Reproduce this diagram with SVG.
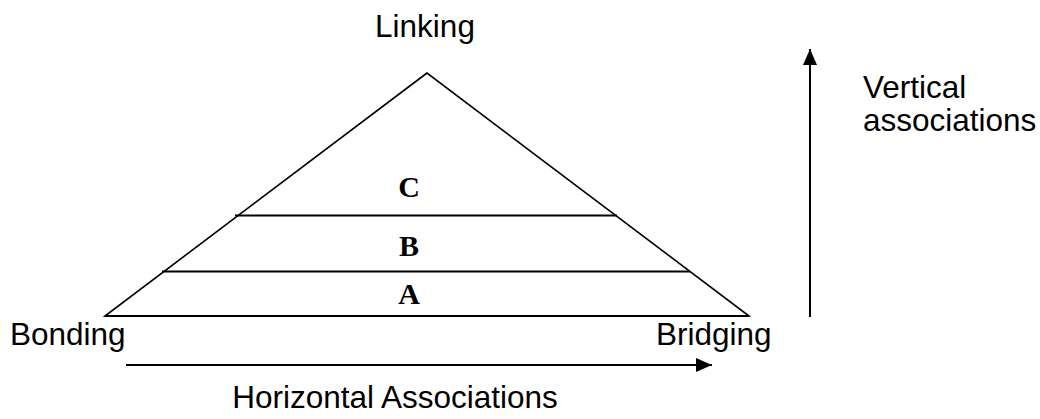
<svg xmlns="http://www.w3.org/2000/svg" width="1040" height="419" viewBox="0 0 1040 419">
  <style>
    .label { font-family: "Liberation Sans", Arial, sans-serif; font-size: 31.5px; fill: #000; }
    .tier { font-family: "Liberation Serif", "Times New Roman", serif; font-size: 30px; font-weight: bold; fill: #000; text-anchor: middle; }
    .edge { stroke: #000; stroke-width: 1.6; fill: none; }
    .band { stroke: #000; stroke-width: 2; fill: none; }
    .axis { stroke: #000; stroke-width: 2; fill: none; }
  </style>
  <defs>
    <marker id="head" viewBox="0 0 16 14" refX="16" refY="7" markerWidth="16" markerHeight="14" markerUnits="userSpaceOnUse" orient="auto">
      <path d="M0,0 L16,7 L0,14 Z" fill="#000"/>
    </marker>
  </defs>

  <!-- pyramid with its three tiers -->
  <g id="pyramid">
    <polygon class="edge" points="427,73 105,316 749,316"/>
    <line class="band" x1="105" y1="316" x2="749" y2="316"/>
    <line class="band" x1="235" y1="215.5" x2="617" y2="215.5"/>
    <line class="band" x1="162" y1="271.5" x2="690" y2="271.5"/>
  </g>
  <g id="tier-c"><text class="tier" x="409" y="197">C</text></g>
  <g id="tier-b"><text class="tier" x="409" y="256">B</text></g>
  <g id="tier-a"><text class="tier" x="409" y="304">A</text></g>

  <!-- corner labels -->
  <g id="linking"><text class="label" x="425" y="37" text-anchor="middle">Linking</text></g>
  <g id="bonding"><text class="label" x="10" y="345">Bonding</text></g>
  <g id="bridging"><text class="label" x="656" y="345">Bridging</text></g>

  <!-- axis labels -->
  <g id="vertical-label">
    <text class="label" x="863" y="98">Vertical</text>
    <text class="label" x="863" y="131">associations</text>
  </g>
  <g id="horizontal-label"><text class="label" x="395" y="408" text-anchor="middle">Horizontal Associations</text></g>

  <!-- axis arrows -->
  <g id="connectors">
    <line class="axis" x1="126" y1="365" x2="712" y2="365" marker-end="url(#head)"/>
    <line class="axis" x1="810" y1="317" x2="810" y2="49" marker-end="url(#head)"/>
  </g>
</svg>
